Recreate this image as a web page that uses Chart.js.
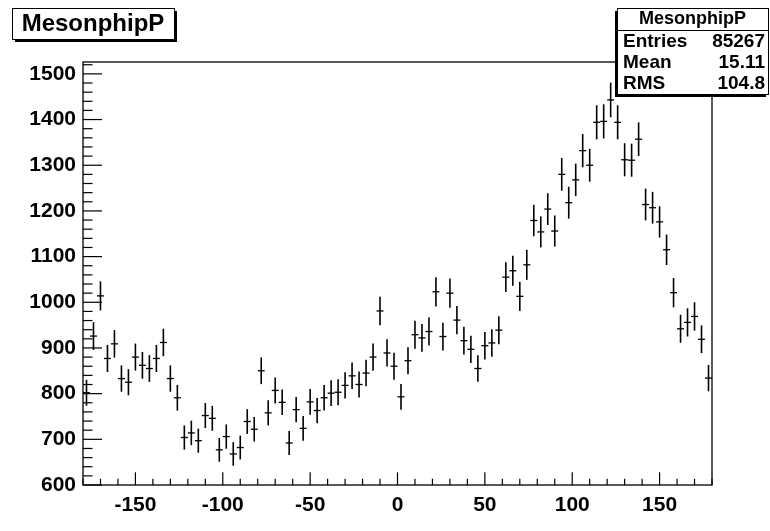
<!DOCTYPE html>
<html><head><meta charset="utf-8">
<script src="https://cdn.jsdelivr.net/npm/chart.js@4.4.1/dist/chart.umd.min.js"></script>
<style>html,body{margin:0;padding:0;background:#fff}#wrap{width:770px;height:531px;position:relative}</style>
</head><body><div id="wrap"><canvas id="c" width="770" height="531"></canvas></div>
<script>
const histTitle = 'MesonphipP';
const binWidth = 4;
const binCenters = [-178,-174,-170,-166,-162,-158,-154,-150,-146,-142,-138,-134,-130,-126,-122,-118,-114,-110,-106,-102,
  -98,-94,-90,-86,-82,-78,-74,-70,-66,-62,-58,-54,-50,-46,-42,-38,-34,-30,-26,-22,
  -18,-14,-10,-6,-2,2,6,10,14,18,22,26,30,34,38,42,46,50,54,58,
  62,66,70,74,78,82,86,90,94,98,102,106,110,114,118,122,126,130,134,138,
  142,146,150,154,158,162,166,170,174,178];
const counts = [802,926,1014,877,909,833,825,880,862,855,
  877,912,833,791,704,714,697,752,746,677,
  706,668,682,739,722,850,758,807,781,692,
  765,724,782,763,791,801,803,818,839,820,
  845,880,981,889,860,793,872,929,922,936,
  1023,925,1020,961,916,897,855,905,911,939,
  1055,1069,1013,1082,1179,1154,1204,1156,1280,1218,
  1268,1332,1300,1394,1396,1443,1394,1312,1311,1357,
  1214,1207,1176,1115,1021,942,956,969,919,834];
const xTickVals = [-150,-100,-50,0,50,100,150];
const yTickVals = [600,700,800,900,1000,1100,1200,1300,1400,1500];
const statsRows = [['Entries','85267'],['Mean','15.11'],['RMS','104.8']];
const xMinorStep = 10, yMinorStep = 20;
const X_MIN = -180, X_MAX = 180, Y_MIN = 600, Y_MAX = 1526;

const FONT = '"Liberation Sans", Arial, Helvetica, sans-serif';

const histPlugin = {
  id: 'hist',
  beforeDraw(chart) {
    const c = chart.ctx;
    c.save(); c.fillStyle = '#fff'; c.fillRect(0, 0, chart.width, chart.height); c.restore();
  },
  afterDatasetsDraw(chart) {
    const c = chart.ctx, a = chart.chartArea, xs = chart.scales.x, ys = chart.scales.y;
    c.save();
    c.strokeStyle = '#000';
    counts.forEach((v, i) => {
      const cx = xs.getPixelForValue(binCenters[i]);
      const err = Math.sqrt(v);
      const py = ys.getPixelForValue(v);
      const t = ys.getPixelForValue(Math.min(v + err, Y_MAX));
      const b = ys.getPixelForValue(Math.max(v - err, Y_MIN));
      c.lineWidth = 1.6;
      c.beginPath(); c.moveTo(cx, t); c.lineTo(cx, b); c.stroke();
      const l = xs.getPixelForValue(Math.max(binCenters[i] - binWidth / 2, X_MIN));
      const r = xs.getPixelForValue(Math.min(binCenters[i] + binWidth / 2, X_MAX));
      c.lineWidth = 1.3;
      c.beginPath(); c.moveTo(l, py); c.lineTo(r, py); c.stroke();
    });
    c.lineWidth = 1.3;
    c.strokeRect(a.left, a.top, a.right - a.left, a.bottom - a.top);
    c.lineWidth = 1.2;
    const yMajorLen = 19, yMinorLen = 9.5, xMajorLen = 12.7, xMinorLen = 6.3;
    for (let v = Y_MIN; v <= Y_MAX; v += yMinorStep) {
      const p = ys.getPixelForValue(v);
      const len = yTickVals.includes(v) ? yMajorLen : yMinorLen;
      c.beginPath(); c.moveTo(a.left, p); c.lineTo(a.left + len, p); c.stroke();
    }
    for (let v = X_MIN; v <= X_MAX; v += xMinorStep) {
      const p = xs.getPixelForValue(v);
      const len = xTickVals.includes(v) ? xMajorLen : xMinorLen;
      c.beginPath(); c.moveTo(p, a.bottom); c.lineTo(p, a.bottom - len); c.stroke();
    }
    c.restore();
  },
  afterDraw(chart) {
    const c = chart.ctx;
    c.save();
    const tb = {x: 12, y: 8, w: 162, h: 31};
    c.fillStyle = '#000';
    c.fillRect(tb.x + 3, tb.y + 3, tb.w, tb.h);
    c.fillStyle = '#fff';
    c.fillRect(tb.x, tb.y, tb.w, tb.h);
    c.strokeStyle = '#000'; c.lineWidth = 1;
    c.strokeRect(tb.x + 0.5, tb.y + 0.5, tb.w, tb.h);
    c.fillStyle = '#000';
    c.font = 'bold 24px ' + FONT;
    c.textAlign = 'center'; c.textBaseline = 'middle';
    c.fillText(histTitle, tb.x + tb.w / 2, tb.y + tb.h / 2 + 1);
    const sb = {x: 617, y: 8, w: 151, h: 86};
    c.fillStyle = '#000';
    c.fillRect(sb.x - 2, sb.y + 3, sb.w, sb.h);
    c.fillStyle = '#fff';
    c.fillRect(sb.x, sb.y, sb.w, sb.h);
    c.strokeRect(sb.x + 0.5, sb.y + 0.5, sb.w, sb.h);
    c.beginPath(); c.moveTo(sb.x, sb.y + 22.5); c.lineTo(sb.x + sb.w, sb.y + 22.5); c.stroke();
    c.fillStyle = '#000';
    c.font = 'bold 18px ' + FONT;
    c.textAlign = 'center';
    c.fillText(histTitle, sb.x + sb.w / 2, sb.y + 11.5);
    c.font = 'bold 19px ' + FONT;
    statsRows.forEach((row, i) => {
      const yy = sb.y + 34 + i * 21;
      c.textAlign = 'left'; c.fillText(row[0], sb.x + 6, yy);
      c.textAlign = 'right'; c.fillText(row[1], sb.x + sb.w - 3, yy);
    });
    c.restore();
  }
};

new Chart(document.getElementById('c'), {
  type: 'scatter',
  data: { datasets: [{ data: binCenters.map((x, i) => ({x, y: counts[i]})), pointRadius: 0, showLine: false }] },
  options: {
    responsive: false, animation: false,
    layout: { padding: { left: 0, top: 62, right: 58, bottom: 0 } },
    plugins: { legend: { display: false }, tooltip: { enabled: false } },
    scales: {
      x: {
        type: 'linear', min: X_MIN, max: X_MAX,
        grid: { display: false, drawTicks: false }, border: { display: false },
        afterBuildTicks: s => { s.ticks = xTickVals.map(v => ({value: v})); },
        afterFit: s => { s.height = 46; },
        ticks: { callback: v => String(v), font: { family: FONT, weight: 'bold', size: 21 }, color: '#000', padding: 8, maxRotation: 0, autoSkip: false }
      },
      y: {
        type: 'linear', min: Y_MIN, max: Y_MAX,
        grid: { display: false, drawTicks: false }, border: { display: false },
        afterBuildTicks: s => { s.ticks = yTickVals.map(v => ({value: v})); },
        afterFit: s => { s.width = 83; },
        ticks: { callback: v => String(v), font: { family: FONT, weight: 'bold', size: 21 }, color: '#000', padding: 7, autoSkip: false }
      }
    }
  },
  plugins: [histPlugin]
});
</script>
</body></html>
